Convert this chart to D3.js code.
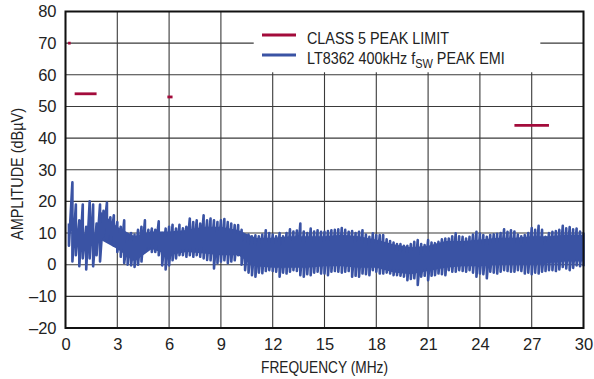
<!DOCTYPE html>
<html>
<head>
<meta charset="utf-8">
<script src="https://cdn.jsdelivr.net/npm/d3@7"></script>
<style>
  body { margin: 0; background: #fff; }
  text { font-family: "Liberation Sans", Arial, sans-serif; fill: #222; }
</style>
</head>
<body>
<div id="chart"></div>
<script>
var xTicks = [0, 3, 6, 9, 12, 15, 18, 21, 24, 27, 30];
var yTicks = [-20, -10, 0, 10, 20, 30, 40, 50, 60, 70, 80];

// CISPR 25 class 5 peak limit segments [fStart, fEnd, dBuV]
var limitStart = [0.15, 0.53, 5.9, 26];
var limitEnd   = [0.3, 1.8, 6.2, 28];
var limitLevel = [70, 54, 53, 44];

// EMI trace: sample frequency, peak and valley (dBuV)
var emiFreq = [0.2,0.4,0.6,0.8,1.0,1.2,1.4,1.6,1.8,2.0,2.2,2.4,2.6,2.8,3.0,3.2,3.4,3.6,3.8,4.0,
  4.2,4.4,4.6,4.8,5.0,5.2,5.4,5.6,5.8,6.0,6.2,6.4,6.6,6.8,7.0,7.2,7.4,7.6,7.8,8.0,
  8.2,8.4,8.6,8.8,9.0,9.2,9.4,9.6,9.8,10.0,10.2,10.4,10.6,10.8,11.0,11.2,11.4,11.6,11.8,12.0,
  12.2,12.4,12.6,12.8,13.0,13.2,13.4,13.6,13.8,14.0,14.2,14.4,14.6,14.8,15.0,15.2,15.4,15.6,15.8,16.0,
  16.2,16.4,16.6,16.8,17.0,17.2,17.4,17.6,17.8,18.0,18.2,18.4,18.6,18.8,19.0,19.2,19.4,19.6,19.8,20.0,
  20.2,20.4,20.6,20.8,21.0,21.2,21.4,21.6,21.8,22.0,22.2,22.4,22.6,22.8,23.0,23.2,23.4,23.6,23.8,24.0,
  24.2,24.4,24.6,24.8,25.0,25.2,25.4,25.6,25.8,26.0,26.2,26.4,26.6,26.8,27.0,27.2,27.4,27.6,27.8,28.0,
  28.2,28.4,28.6,28.8,29.0,29.2,29.4,29.6,29.8,30.0];
var emiHigh = [13,26,19,14,19,12,20,19,13,19,17,19.6,15,15.6,13.5,12,14,9,10,9.5,
  11,12,14,11,11.4,11,13.7,10,11.4,12,12.6,11.4,12.6,11.5,12,14.6,13.5,14,13,15.6,
  14,14.6,14,13.5,14,14.4,13.5,13,12.5,12.5,11,9.3,9.5,9,9.3,9,9.5,10.9,10,9.5,
  9,10,9,10,11.2,10.5,10.8,13,10.5,10,11.4,10.5,10.9,10.4,10.4,10.6,10.9,11,11.2,11.6,
  11,10.4,10.6,10,10.4,10.9,9.5,8.8,9.9,9.4,9.4,9.4,8,7.5,7,6.5,6.5,6,6,6.5,
  7.2,7.8,6.5,6.2,7.8,7,6.8,7.2,8,8.3,8.3,9,9.9,9,8.8,8.3,8.8,9.5,10.4,9.8,
  9.4,8.8,9.4,9.6,9.8,10,11.2,10.4,10.9,10.5,9.5,9,9.4,10,11.6,11,12.3,11,8.8,10,
  10.4,10.6,11,12.3,11.5,11.9,11.2,11.4,10.5,9.9];
var emiLow = [6,1,3,-0.5,2,-1.5,2,-0.5,3,1,9,8,7,6,4,2.5,0.5,0,-0.2,-0.7,
  0,1,4,5,4,4,3,-0.2,-1.5,-0.2,1.4,2,3,3,2.5,3,2.5,3,2.5,2,
  1.5,1.4,-1.2,0.5,1,1.4,0.5,1,1.4,3,0,-1.7,-2.5,-3.3,-3.8,-2.5,-2.7,-2,-1.7,-2,
  -2.2,-3.8,-2.5,-2.8,-2.2,-1.7,-2,-3.3,-3.8,-3,-3.3,-2.5,-2.2,-2.8,-2.8,-3.3,-2.2,-2,-2.2,-2.5,
  -2.2,-2,-3.8,-3.5,-3.8,-2.8,-3,-3.3,-1.7,-2.2,-2.8,-2.8,-2.5,-2.8,-3.3,-3.3,-3.5,-3.8,-4.9,-4.5,
  -4.3,-6.4,-3.8,-3.5,-4.9,-3.5,-3.3,-2.8,-3,-3.3,-1.7,-2.2,-2.2,-1.7,-2,-2.2,-1.7,-2.5,-3.8,-2.8,
  -3,-4.3,-2.2,-2.5,-2.8,-2.2,-1.7,-2,-2.2,-2.2,-1.7,-2,-2.8,-2.5,-3,-2.5,-2.8,-2.2,-2,-1.7,
  -1.7,-2,-1.5,-0.7,-1.2,-1.7,-1,-0.2,-0.5,-0.5];

// dense core of the trace, read every 1 MHz from 2 MHz
var coreFreq = [2,3,4,5,6,7,8,9,10,11,12,13,14,15,16,17,18,19,20,21,22,23,24,25,26,27,28,29,30];
var coreTop  = [17,12,9,10.5,10.5,11,12,12,11,8.5,8.5,9,9,9,9.5,9,8,6.5,5.5,6,7.5,7.5,8,8.5,8.5,9,9,9.5,9.5];
var coreBot  = [8,5,1,5,3,4,3.5,3,3,-0.5,-1,-1,-1,-0.5,-0.5,-1,-1,-2.5,-3,-2,-1,-0.5,-0.5,0,0,0,0.5,1,1];

var legendLabels = ["CLASS 5 PEAK LIMIT", "LT8362 400kHz f", "SW", " PEAK EMI"];

var red = "#a30b3b", blue = "#3a53a4";

var margin = {top: 11.5, right: 10.5, bottom: 51, left: 65.5},
    width = 594 - margin.left - margin.right,
    height = 379 - margin.top - margin.bottom;

var svg = d3.select("#chart").append("svg")
    .attr("width", 594)
    .attr("height", 379)
  .append("g")
    .attr("transform", "translate(" + margin.left + "," + margin.top + ")");

var x = d3.scaleLinear().domain([0, 30]).range([0, width]);
var y = d3.scaleLinear().domain([-20, 80]).range([height, 0]);

// grid
svg.append("g")
    .selectAll("line")
    .data(yTicks)
  .enter().append("line")
    .attr("x1", 0).attr("x2", width)
    .attr("y1", function(d) { return y(d); })
    .attr("y2", function(d) { return y(d); })
    .attr("stroke", "#3a3a3a")
    .attr("stroke-width", 1.1);

svg.append("g")
    .selectAll("line")
    .data(xTicks)
  .enter().append("line")
    .attr("y1", 0).attr("y2", height)
    .attr("x1", function(d) { return x(d); })
    .attr("x2", function(d) { return x(d); })
    .attr("stroke", "#3a3a3a")
    .attr("stroke-width", 1.1);

// legend background hides the grid
svg.append("rect")
    .attr("x", x(10.9)).attr("y", 0)
    .attr("width", x(27.5) - x(10.9))
    .attr("height", y(60.8))
    .attr("fill", "#fff");

// EMI trace: solid core plus peak/valley zig-zag
var core = d3.area()
    .x(function(d, i) { return x(coreFreq[i]); })
    .y0(function(d, i) { return y(coreBot[i]); })
    .y1(function(d, i) { return y(coreTop[i]); });
svg.append("path")
    .attr("d", core(coreFreq))
    .attr("fill", blue);

var pts = [];
emiFreq.forEach(function(f, i) {
  pts.push([x(f), y(emiHigh[i])]);
  pts.push([x(f), y(emiLow[i])]);
});
svg.append("path")
    .attr("d", d3.line()(pts))
    .attr("fill", "none")
    .attr("stroke", blue)
    .attr("stroke-width", 2.6)
    .attr("stroke-linejoin", "round");

// limit lines
svg.append("g")
    .selectAll("line")
    .data(limitLevel)
  .enter().append("line")
    .attr("x1", function(d, i) { return x(limitStart[i]); })
    .attr("x2", function(d, i) { return x(limitEnd[i]); })
    .attr("y1", function(d) { return y(d); })
    .attr("y2", function(d) { return y(d); })
    .attr("stroke", red)
    .attr("stroke-width", 2.8);

// frame
svg.append("rect")
    .attr("width", width).attr("height", height)
    .attr("fill", "none")
    .attr("stroke", "#111")
    .attr("stroke-width", 2);

// axes labels
var xAxis = d3.axisBottom(x).tickValues(xTicks).tickSize(0).tickPadding(10.5);
var yAxis = d3.axisLeft(y).tickValues(yTicks).tickSize(0).tickPadding(9)
    .tickFormat(function(d) { return d < 0 ? "\u2013" + Math.abs(d) : d; });

svg.append("g")
    .attr("transform", "translate(0," + height + ")")
    .call(xAxis)
    .call(function(g) { g.select(".domain").remove(); })
    .selectAll("text")
    .attr("font-size", 16.5)
    .style("font-family", null);

svg.append("g")
    .call(yAxis)
    .call(function(g) { g.select(".domain").remove(); })
    .selectAll("text")
    .attr("font-size", 16.5)
    .style("font-family", null);

svg.selectAll(".tick text").attr("fill", "#222");

svg.append("text")
    .attr("x", width / 2)
    .attr("y", height + 45)
    .attr("text-anchor", "middle")
    .attr("font-size", 16.5)
    .attr("textLength", 127)
    .attr("lengthAdjust", "spacingAndGlyphs")
    .text("FREQUENCY (MHz)");

svg.append("text")
    .attr("transform", "translate(-42.5,162.5) rotate(-90)")
    .attr("text-anchor", "middle")
    .attr("font-size", 16.5)
    .attr("textLength", 132)
    .attr("lengthAdjust", "spacingAndGlyphs")
    .text("AMPLITUDE (dB\u00b5V)");

// legend
var lg = svg.append("g").attr("transform", "translate(" + (262 - margin.left) + "," + (-margin.top) + ")");
lg.append("line")
    .attr("x1", 0).attr("x2", 34)
    .attr("y1", 35).attr("y2", 35)
    .attr("stroke", red).attr("stroke-width", 2.8);
lg.append("line")
    .attr("x1", 0).attr("x2", 34)
    .attr("y1", 55).attr("y2", 55)
    .attr("stroke", blue).attr("stroke-width", 2.8);
lg.append("text")
    .attr("transform", "translate(45,44) scale(0.845,1)")
    .attr("font-size", 17)
    .text(legendLabels[0]);
var t2 = lg.append("text")
    .attr("transform", "translate(45,64) scale(0.845,1)")
    .attr("font-size", 17);
t2.append("tspan").text(legendLabels[1]);
t2.append("tspan").attr("font-size", 13).attr("dy", 4).text(legendLabels[2]);
t2.append("tspan").attr("dy", -4).text(legendLabels[3]);
</script>
</body>
</html>
